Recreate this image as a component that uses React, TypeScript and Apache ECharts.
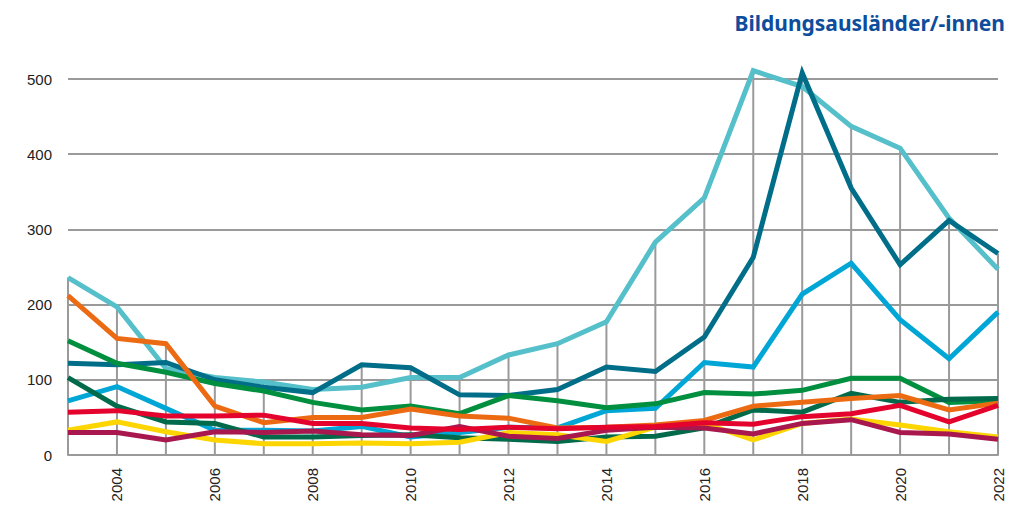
import React, { useEffect, useRef } from "react";
import * as echarts from "echarts";

const years = ["2003","2004","2005","2006","2007","2008","2009","2010","2011","2012","2013","2014","2015","2016","2017","2018","2019","2020","2021","2022"];

const lightTeal = [236,197,115,103,97,87,90,103,103,133,148,177,283,342,511,490,437,408,315,247];
const darkTeal = [122,120,123,100,90,83,120,116,80,79,87,117,111,157,263,508,355,253,312,268];
const lightBlue = [72,91,62,33,33,32,38,24,30,37,36,59,62,123,117,214,255,180,128,190];
const green = [152,122,110,95,85,70,60,65,55,79,72,63,68,83,81,86,102,102,70,72];
const darkGreen = [103,65,44,42,24,24,26,27,23,21,18,24,25,36,60,57,82,70,74,75];
const orange = [212,155,148,65,43,50,50,61,52,49,36,37,40,46,65,70,75,79,60,69];
const red = [57,59,52,52,53,42,42,36,34,37,35,37,38,43,41,51,55,66,44,66];
const crimson = [30,30,20,31,30,32,27,26,38,25,22,33,37,36,28,42,47,30,28,21];
const yellow = [33,44,31,20,15,15,16,15,17,30,27,18,37,42,20,42,48,40,31,24];

const yTicks = [0, 100, 200, 300, 400, 500];
const title = "Bildungsausländer/-innen";

const seriesDefs = [
  { name: "A", data: lightTeal, color: "#55bfca" },
  { name: "B", data: darkTeal, color: "#006e88" },
  { name: "C", data: lightBlue, color: "#00a6d6" },
  { name: "D", data: green, color: "#008f3f" },
  { name: "E", data: darkGreen, color: "#006a4a" },
  { name: "F", data: orange, color: "#ec6a12" },
  { name: "G", data: yellow, color: "#fdd500" },
  { name: "H", data: crimson, color: "#a8184f" },
  { name: "I", data: red, color: "#e4032c" },
];

const maxPerYear = years.map((_, i) => Math.max(...seriesDefs.map((s) => s.data[i])));

export default function App() {
  const ref = useRef<HTMLDivElement>(null);
  useEffect(() => {
    if (!ref.current) return;
    const chart = echarts.init(ref.current, undefined, { renderer: "svg" });
    chart.setOption({
      animation: false,
      textStyle: { fontFamily: "Liberation Sans" },
      graphic: [
        {
          type: "text",
          right: 6,
          top: 12,
          style: {
            text: title,
            fill: "#0d4d9c",
            font: "bold 21px 'Noto Sans'",
          },
        },
      ],
      grid: { left: 68, right: 13, top: 79, bottom: 66 },
      xAxis: {
        type: "category",
        data: years,
        boundaryGap: false,
        axisLine: { show: true, lineStyle: { color: "#9a9a9a", width: 2 } },
        axisTick: { show: false },
        splitLine: { show: false },
        axisLabel: {
          rotate: 90,
          margin: 13,
          interval: (idx: number, val: string) => Number(val) % 2 === 0,
          color: "#222",
          fontSize: 15,
          fontFamily: "Liberation Sans",
        },
      },
      yAxis: {
        type: "value",
        min: yTicks[0],
        max: yTicks[yTicks.length - 1],
        interval: 100,
        axisLine: { show: false },
        axisTick: { show: false },
        splitLine: { show: true, lineStyle: { color: "#9a9a9a", width: 2 } },
        axisLabel: {
          margin: 16,
          color: "#222",
          fontSize: 15,
          fontFamily: "Liberation Sans",
        },
      },
      series: [
        {
          type: "custom",
          z: 1,
          clip: false,
          data: maxPerYear.map((v, i) => [i, v]),
          renderItem: (params: any, api: any) => {
            const p0 = api.coord([api.value(0), 0]);
            const p1 = api.coord([api.value(0), api.value(1)]);
            return {
              type: "line",
              shape: { x1: p0[0], y1: p0[1], x2: p1[0], y2: p1[1] },
              style: { stroke: "#9a9a9a", lineWidth: 2 },
            };
          },
          silent: true,
        },
        ...seriesDefs.map((s, k) => ({
          name: s.name,
          type: "line",
          data: s.data,
          z: 2 + k,
          clip: false,
          symbol: "none",
          lineStyle: { color: s.color, width: 5, join: "miter" },
          itemStyle: { color: s.color },
        })),
      ],
    });
    return () => chart.dispose();
  }, []);
  return (
    <div
      ref={ref}
      style={{ position: "fixed", left: 0, top: 0, width: 1011, height: 521, background: "#fff" }}
    />
  );
}
